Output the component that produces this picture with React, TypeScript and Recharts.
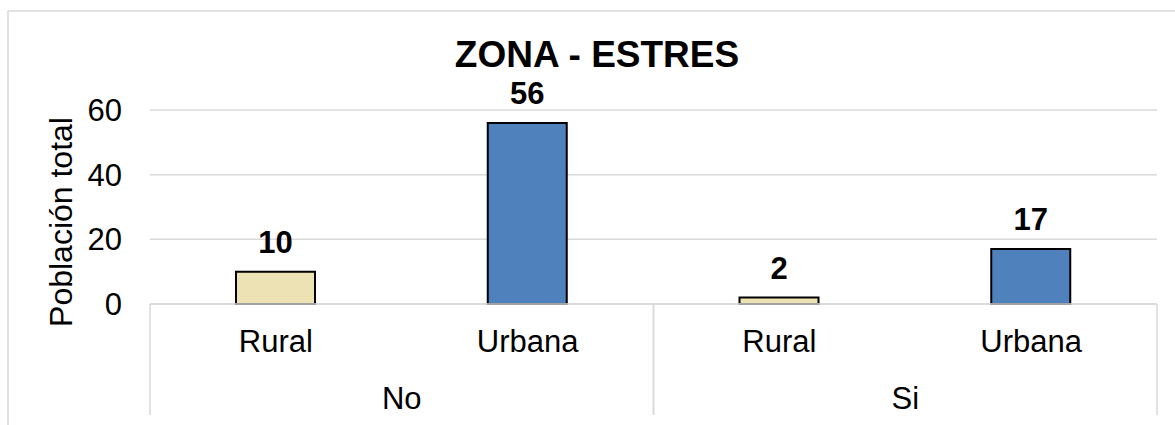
import { BarChart, Bar, XAxis, YAxis, CartesianGrid, Cell, LabelList } from "recharts";

const zonas = ["Rural", "Urbana", "Rural", "Urbana"];
const grupos = ["No", "No", "Si", "Si"];
const poblacion = [10, 56, 2, 17];
const yTicks = [0, 20, 40, 60];

const zonaColors: Record<string, string> = {
  Rural: "#EDE2B3",
  Urbana: "#4F81BD",
};

const data = zonas.map((zona, i) => ({
  key: `${grupos[i]}-${zona}-${i}`,
  zona,
  grupo: grupos[i],
  total: poblacion[i],
}));

const FONT = "'Liberation Sans', Arial, sans-serif";
const W = 1175;
const H = 425;
const X1_HEIGHT = 70;
const X2_HEIGHT = 45;
const GRP_MARGIN = 13;
const GRID = "#D9D9D9";

function ZonaTick(props: any) {
  const { x, y, index } = props;
  return (
    <text x={x} y={y} dy="0.71em" textAnchor="middle" fontSize={31} fontFamily={FONT} fill="#000">
      {data[index] ? data[index].zona : props.payload.value}
    </text>
  );
}

function GrupoTick(props: any) {
  const { x, y, payload } = props;
  const half = payload.offset ?? 0;
  const top = y - GRP_MARGIN - X1_HEIGHT;
  return (
    <g>
      <line x1={x - half} x2={x - half} y1={top} y2={H - 10} stroke={GRID} strokeWidth={1.5} />
      <line x1={x + half} x2={x + half} y1={top} y2={H - 10} stroke={GRID} strokeWidth={1.5} />
      <text x={x} y={y} dy="0.71em" textAnchor="middle" fontSize={31} fontFamily={FONT} fill="#000">
        {payload.value}
      </text>
    </g>
  );
}

export default function App() {
  return (
    <div style={{ position: "absolute", left: 0, top: 0, width: W, height: H, background: "#fff" }}>
      <BarChart
        width={W}
        height={H}
        data={data}
        margin={{ top: 110, right: 18, left: 90, bottom: H - 304 - X1_HEIGHT - X2_HEIGHT }}
      >
        <CartesianGrid horizontal={true} vertical={false} stroke={GRID} strokeWidth={1.5} />
        <XAxis
          dataKey="key"
          tick={<ZonaTick />}
          tickLine={false}
          tickSize={0}
          tickMargin={26}
          height={X1_HEIGHT}
          axisLine={{ stroke: GRID, strokeWidth: 1.5 }}
          interval={0}
        />
        <XAxis
          xAxisId="grp"
          dataKey="grupo"
          allowDuplicatedCategory={false}
          tick={<GrupoTick />}
          tickLine={false}
          tickSize={0}
          tickMargin={GRP_MARGIN}
          height={X2_HEIGHT}
          axisLine={false}
          interval={0}
        />
        <YAxis
          domain={[0, 60]}
          ticks={yTicks}
          width={60}
          tickLine={false}
          axisLine={false}
          tickSize={6}
          tickMargin={22}
          tick={{ fontSize: 31, fontFamily: FONT, fill: "#000" }}
        />
        <Bar dataKey="total" barSize={79} stroke="#000" strokeWidth={2} isAnimationActive={false}>
          {data.map((d) => (
            <Cell key={d.key} fill={zonaColors[d.zona]} />
          ))}
          <LabelList
            dataKey="total"
            position="top"
            offset={19}
            style={{ fontSize: 31, fontWeight: "bold", fontFamily: FONT, fill: "#000" }}
          />
        </Bar>
      </BarChart>
      <svg
        width={W}
        height={H}
        style={{ position: "absolute", left: 0, top: 0, pointerEvents: "none" }}
      >
        <line x1={8} x2={W} y1={11} y2={11} stroke={GRID} strokeWidth={1.5} />
        <line x1={8} x2={8} y1={11} y2={H} stroke={GRID} strokeWidth={1.5} />
        <text x={597} y={67} textAnchor="middle" fontSize={37} fontWeight="bold" fontFamily={FONT} fill="#000">
          ZONA - ESTRES
        </text>
        <text
          x={72}
          y={222}
          transform="rotate(-90 72 222)"
          textAnchor="middle"
          fontSize={32}
          fontFamily={FONT}
          fill="#000"
        >
          Población total
        </text>
      </svg>
    </div>
  );
}
